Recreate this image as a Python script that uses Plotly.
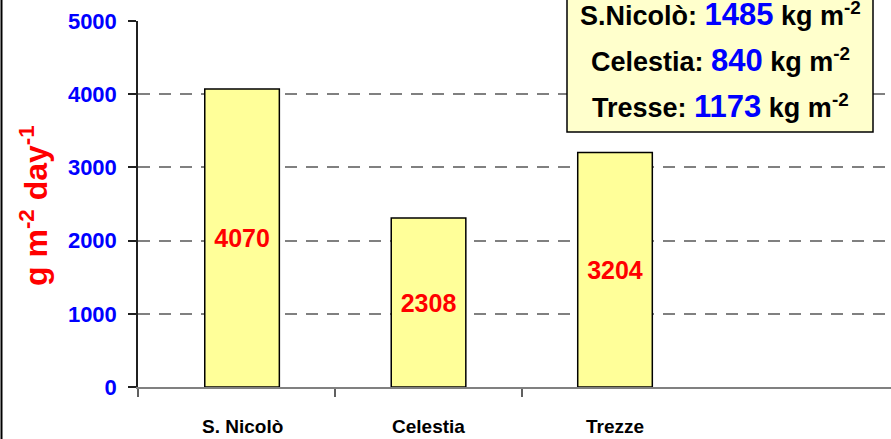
import plotly.graph_objects as go

categories = ["S. Nicolò", "Celestia", "Trezze"]
values = [4070, 2308, 3204]
box_names = ["S.Nicolò", "Celestia", "Tresse"]
box_totals = [1485, 840, 1173]
y_ticks = [0, 1000, 2000, 3000, 4000, 5000]

W, H = 891, 439
L, R, T, B = 138, 0, 21, 52
pw, ph = W - L - R, H - T - B

def px_x(px):
    return (px - L) / pw

def px_y(py):
    return (H - B - py) / ph

x_idx = list(range(len(categories)))
x0, x1 = -0.558, 3.48

fig = go.Figure()
fig.add_trace(go.Bar(
    x=x_idx, y=values, width=0.4,
    marker=dict(color="#FFFF99", line=dict(color="#000000", width=1.5)),
    text=[str(v) for v in values], textposition="inside",
    insidetextanchor="middle", textangle=0, constraintext="none",
    textfont=dict(family="Liberation Sans, Arial", size=25, color="#FF0000", weight="bold"),
    hoverinfo="skip",
))

fig.update_layout(
    width=W, height=H, margin=dict(l=L, r=R, t=T, b=B),
    paper_bgcolor="white", plot_bgcolor="white", showlegend=False,
    font=dict(family="Liberation Sans, Arial"),
)
fig.update_xaxes(
    range=[x0, x1], tickvals=[x0, 0.5, 1.5], ticktext=["", "", ""],
    ticks="outside", ticklen=8, tickcolor="#606060", tickwidth=1.5,
    showline=True, linecolor="#808080", linewidth=1.5, showgrid=False, zeroline=False,
)
fig.update_yaxes(
    range=[0, 5000], tickvals=y_ticks, ticktext=[str(v) for v in y_ticks],
    ticks="outside", ticklen=8, tickcolor="#202020", tickwidth=1.5,
    tickfont=dict(size=22, color="#0000FF", weight="bold"), ticklabelstandoff=7,
    showline=True, linecolor="#202020", linewidth=1.5,
    showgrid=True, gridcolor="#808080", gridwidth=1.5, griddash="12px,9px",
    zeroline=False,
)

# category labels
for i, c in enumerate(categories):
    fig.add_annotation(x=i, xref="x", y=px_y(427), yref="paper", xanchor="center", yanchor="middle",
                       text=c, showarrow=False,
                       font=dict(family="Liberation Sans Narrow, Liberation Sans", size=19,
                                 color="#000000", weight="bold"))

# y title
fig.add_annotation(x=px_x(34), xref="paper", y=px_y(206), yref="paper", textangle=-90,
                   xanchor="center", yanchor="middle",
                   text="g m<sup>-2</sup> day<sup>-1</sup>", showarrow=False,
                   font=dict(size=32, color="#FF0000", weight="bold"))

# left border
fig.add_shape(type="line", xref="paper", yref="paper", x0=px_x(1.5), x1=px_x(1.5),
              y0=px_y(-2), y1=px_y(441), line=dict(color="#000000", width=2))

# info box
fig.add_shape(type="rect", xref="paper", yref="paper", x0=px_x(567), x1=px_x(873),
              y0=px_y(132), y1=px_y(-10), fillcolor="#FFFFCC",
              line=dict(color="#000000", width=1.5), layer="above")
for k, (n, t) in enumerate(zip(box_names, box_totals)):
    fig.add_annotation(x=px_x(720), xref="paper", y=px_y(14 + 46 * k), yref="paper",
                       xanchor="center", yanchor="middle",
                       text=f"{n}: <span style='color:#0000FF;font-size:31px'>{t}</span> kg m<sup>-2</sup>",
                       showarrow=False,
                       font=dict(size=27, color="#000000", weight="bold"))

fig.write_html("out.html", config={"displayModeBar": False},
               post_script="document.body.style.margin='0px';")
